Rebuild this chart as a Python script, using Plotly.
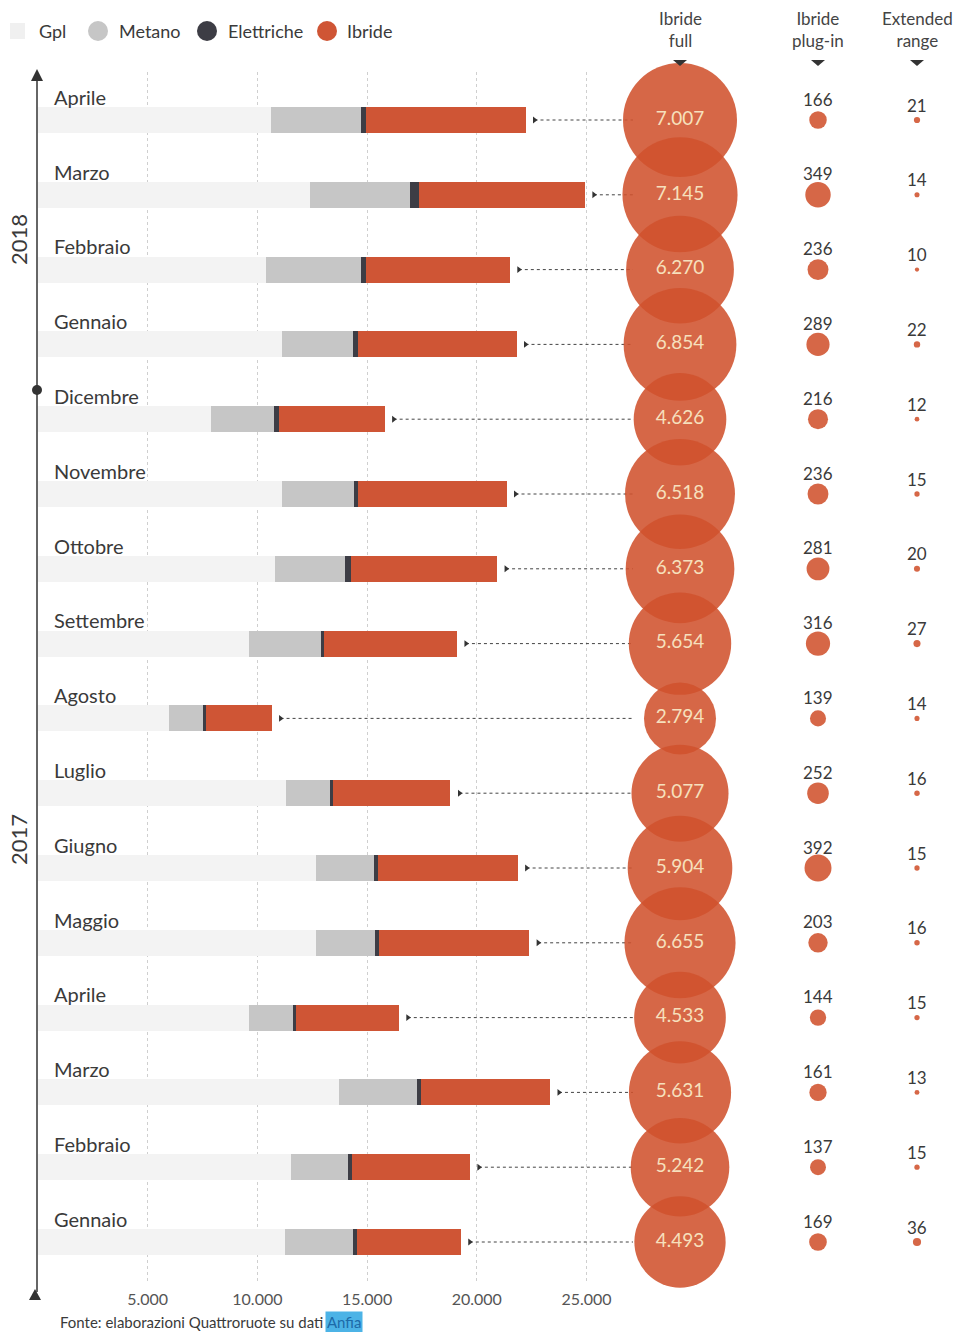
import plotly.graph_objects as go

# ---------------- data ----------------
months = ["Aprile", "Marzo", "Febbraio", "Gennaio", "Dicembre", "Novembre", "Ottobre",
          "Settembre", "Agosto", "Luglio", "Giugno", "Maggio", "Aprile", "Marzo",
          "Febbraio", "Gennaio"]
years = [2018, 2018, 2018, 2018] + [2017] * 12
gpl = [10610, 12420, 10380, 11125, 7890, 11125, 10805, 9620, 5975, 11325, 12650, 12675,
       9620, 13725, 11520, 11280]
metano = [4115, 4515, 4330, 3210, 2845, 3270, 3190, 3270, 1550, 1975, 2660, 2665,
          1980, 3530, 2600, 3080]
elettriche = [245, 410, 230, 255, 230, 195, 290, 140, 110, 135, 180, 180,
              150, 210, 185, 180]
ibride = [7250, 7580, 6565, 7220, 4835, 6765, 6640, 6065, 3010, 5365, 6370, 6865,
          4695, 5870, 5380, 4730]
ibride_full = [7007, 7145, 6270, 6854, 4626, 6518, 6373, 5654, 2794, 5077, 5904, 6655,
               4533, 5631, 5242, 4493]
ibride_plugin = [166, 349, 236, 289, 216, 236, 281, 316, 139, 252, 392, 203,
                 144, 161, 137, 169]
extended_range = [21, 14, 10, 22, 12, 15, 20, 27, 14, 16, 15, 16, 15, 13, 15, 36]
x_ticks = [5000, 10000, 15000, 20000, 25000]
col_names = ["Ibride full", "Ibride plug-in", "Extended range"]
col_headers = ["Ibride<br>full", "Ibride<br>plug-in", "Extended<br>range"]
legend_names = ["Gpl", "Metano", "Elettriche", "Ibride"]

# ---------------- layout constants ----------------
W, H = 953, 1332
L, T, B = 38, 72, 1283           # plot area left / top / bottom in px
PW = W - L
PH = B - T
PX_PER_UNIT = 109.7 / 5000
X_MAX = PW / PX_PER_UNIT
ROW0, STEP = 120, 74.8
FONT = "Lato"

C_GPL = "#f3f3f3"
C_MET = "#c6c6c6"
C_ELE = "#3d3d45"
C_IBR = "#cf5535"
C_BUB = "#d0522e"
TXT = "#3a3a3a"


def pxp(px):
    return (px - L) / PW


def pyp(py):
    return (B - py) / PH


def ypx(py):
    return (py - ROW0) / STEP


def xpx(px):
    return (px - L) / PX_PER_UNIT


idx = list(range(len(months)))
COL_PX = [680, 818, 917]
axes_names = ["x2", "x3", "x4"]

fig = go.Figure()

# stacked bars
for name, vals, col in zip(legend_names, [gpl, metano, elettriche, ibride],
                           [C_GPL, C_MET, C_ELE, C_IBR]):
    fig.add_trace(go.Bar(y=idx, x=vals, orientation="h", name=name, width=0.35,
                         marker=dict(color=col, line=dict(width=0)),
                         showlegend=False, hoverinfo="x+name"))

# leader lines
totals = [a + b + c + d for a, b, c, d in zip(gpl, metano, elettriche, ibride)]
gap = 9 / PX_PER_UNIT
lead_end = xpx(633)
lx, ly = [], []
for t, i in zip(totals, idx):
    lx += [t + gap, lead_end, None]
    ly += [i, i, None]
fig.add_trace(go.Scatter(x=lx, y=ly, mode="lines", showlegend=False, hoverinfo="skip",
                         line=dict(color="#444444", width=1, dash="dot")))
fig.add_trace(go.Scatter(x=[t + gap for t in totals], y=idx, mode="markers",
                         showlegend=False, hoverinfo="skip",
                         marker=dict(symbol="triangle-right", size=6, color="#333333")))

# bubbles
K = 1.362
sref = 2 / K ** 2
for ax, cname, vals in zip(axes_names, col_names, [ibride_full, ibride_plugin, extended_range]):
    is_full = cname == "Ibride full"
    fig.add_trace(go.Scatter(
        x=[cname] * len(vals), y=idx, xaxis=ax, yaxis="y",
        mode="markers+text" if is_full else "markers",
        text=[f"{v:,}".replace(",", ".") for v in vals] if is_full else None,
        textposition="middle center",
        textfont=dict(family=FONT, size=19, color="#f6e0bd"),
        marker=dict(size=vals, sizemode="area", sizeref=sref, color=C_BUB,
                    opacity=0.88, line=dict(width=0)),
        cliponaxis=False, showlegend=False, name=cname))

annotations = []
# plug-in and extended labels
for ax, vals, shift in [("x3", ibride_plugin, 21), ("x4", extended_range, 15)]:
    for v, i in zip(vals, idx):
        annotations.append(dict(xref=ax, yref="y", x=0, y=i, yshift=shift,
                                yanchor="middle", text=str(v), showarrow=False,
                                font=dict(family=FONT, size=17, color=TXT)))
# column headers
for px, h in zip(COL_PX, col_headers):
    annotations.append(dict(xref="paper", yref="paper", x=pxp(px), y=pyp(30), text=h,
                            xanchor="center", yanchor="middle",
                            showarrow=False, align="center",
                            font=dict(family=FONT, size=17, color="#444444")))
# month labels
for m, i in zip(months, idx):
    annotations.append(dict(xref="paper", yref="y", x=pxp(52), y=i - 0.31,
                            xanchor="left", yanchor="middle", text=m, showarrow=False,
                            font=dict(family=FONT, size=20, color=TXT)))
# year labels
for yr, py in [(2018, 240), (2017, 840)]:
    annotations.append(dict(xref="paper", yref="paper", x=pxp(18), y=pyp(py),
                            xanchor="center", yanchor="middle",
                            text=str(yr), textangle=-90, showarrow=False,
                            font=dict(family=FONT, size=22, color=TXT)))
# legend texts
for name, px in zip(legend_names, [37, 117, 226, 345]):
    annotations.append(dict(xref="paper", yref="paper", x=pxp(px), y=pyp(31),
                            xanchor="left", yanchor="middle", text=name, showarrow=False,
                            font=dict(family=FONT, size=18, color=TXT)))
# source
annotations.append(dict(xref="paper", yref="paper", x=pxp(58), y=pyp(1322),
                        xanchor="left", yanchor="middle",
                        text="Fonte: elaborazioni Quattroruote su dati", showarrow=False,
                        font=dict(family=FONT, size=15, color=TXT)))
annotations.append(dict(xref="paper", yref="paper", x=pxp(325), y=pyp(1322),
                        xanchor="left", yanchor="middle", text="Anfia", showarrow=False,
                        bgcolor="#4cb3e6", borderpad=1,
                        font=dict(family=FONT, size=15, color="#1d6aa8")))

shapes = []
# legend swatches
shapes.append(dict(type="rect", xref="paper", yref="paper", x0=pxp(10), x1=pxp(25),
                   y0=pyp(39), y1=pyp(23), fillcolor="#f0f0f0", line=dict(width=0)))
for px, col in [(98, C_MET), (207, C_ELE), (327, C_IBR)]:
    shapes.append(dict(type="circle", xref="paper", yref="paper", x0=pxp(px - 10),
                       x1=pxp(px + 10), y0=pyp(41), y1=pyp(21), fillcolor=col,
                       line=dict(width=0)))
# vertical time axis
AX = pxp(37)
shapes.append(dict(type="line", xref="paper", yref="paper", x0=AX, x1=AX,
                   y0=pyp(1292), y1=pyp(76), line=dict(color="#333333", width=1.5)))
shapes.append(dict(type="path", xref="paper", yref="paper", xsizemode="pixel",
                   ysizemode="pixel", xanchor=AX, yanchor=pyp(69),
                   path="M -6 -12 L 6 -12 L 0 0 Z", fillcolor="#333333",
                   line=dict(width=0)))
shapes.append(dict(type="path", xref="paper", yref="paper", xsizemode="pixel",
                   ysizemode="pixel", xanchor=AX, yanchor=pyp(1289),
                   path="M -8 -11 L 4 -11 L -2 0 Z", fillcolor="#333333",
                   line=dict(width=0)))
shapes.append(dict(type="circle", xref="paper", yref="paper", xsizemode="pixel",
                   ysizemode="pixel", xanchor=AX, yanchor=pyp(390),
                   x0=-5, x1=5, y0=-5, y1=5, fillcolor="#333333", line=dict(width=0)))
# header triangles
for px in COL_PX:
    shapes.append(dict(type="path", xref="paper", yref="paper", xsizemode="pixel",
                       ysizemode="pixel", xanchor=pxp(px), yanchor=pyp(60),
                       path="M -7 0 L 7 0 L 0 -6 Z", fillcolor="#333333",
                       line=dict(width=0)))

layout_axes = {}
for ax, px in zip(axes_names, COL_PX):
    c = pxp(px)
    layout_axes["xaxis" + ax[1:]] = dict(domain=[c - 0.03, c + 0.03], anchor="y",
                                         visible=False, type="category",
                                         range=[-0.5, 0.5], fixedrange=True)

fig.update_layout(
    width=W, height=H,
    margin=dict(l=L, r=0, t=T, b=H - B, pad=0),
    barmode="stack",
    separators=",.",
    paper_bgcolor="white", plot_bgcolor="white",
    font=dict(family=FONT, color=TXT),
    xaxis=dict(domain=[0, 1], range=[0, X_MAX], tickvals=x_ticks, tickformat=",d",
               showgrid=True, gridcolor="#cfcfcf", griddash="dot", gridwidth=1,
               zeroline=False, showline=False, ticks="", ticklabelstandoff=5,
               tickfont=dict(family=FONT, size=16, color="#555555")),
    yaxis=dict(range=[ypx(B), ypx(T)], visible=False, showgrid=False, zeroline=False),
    annotations=annotations,
    shapes=shapes,
    showlegend=False,
    **layout_axes,
)

fig.write_html("out.html")
